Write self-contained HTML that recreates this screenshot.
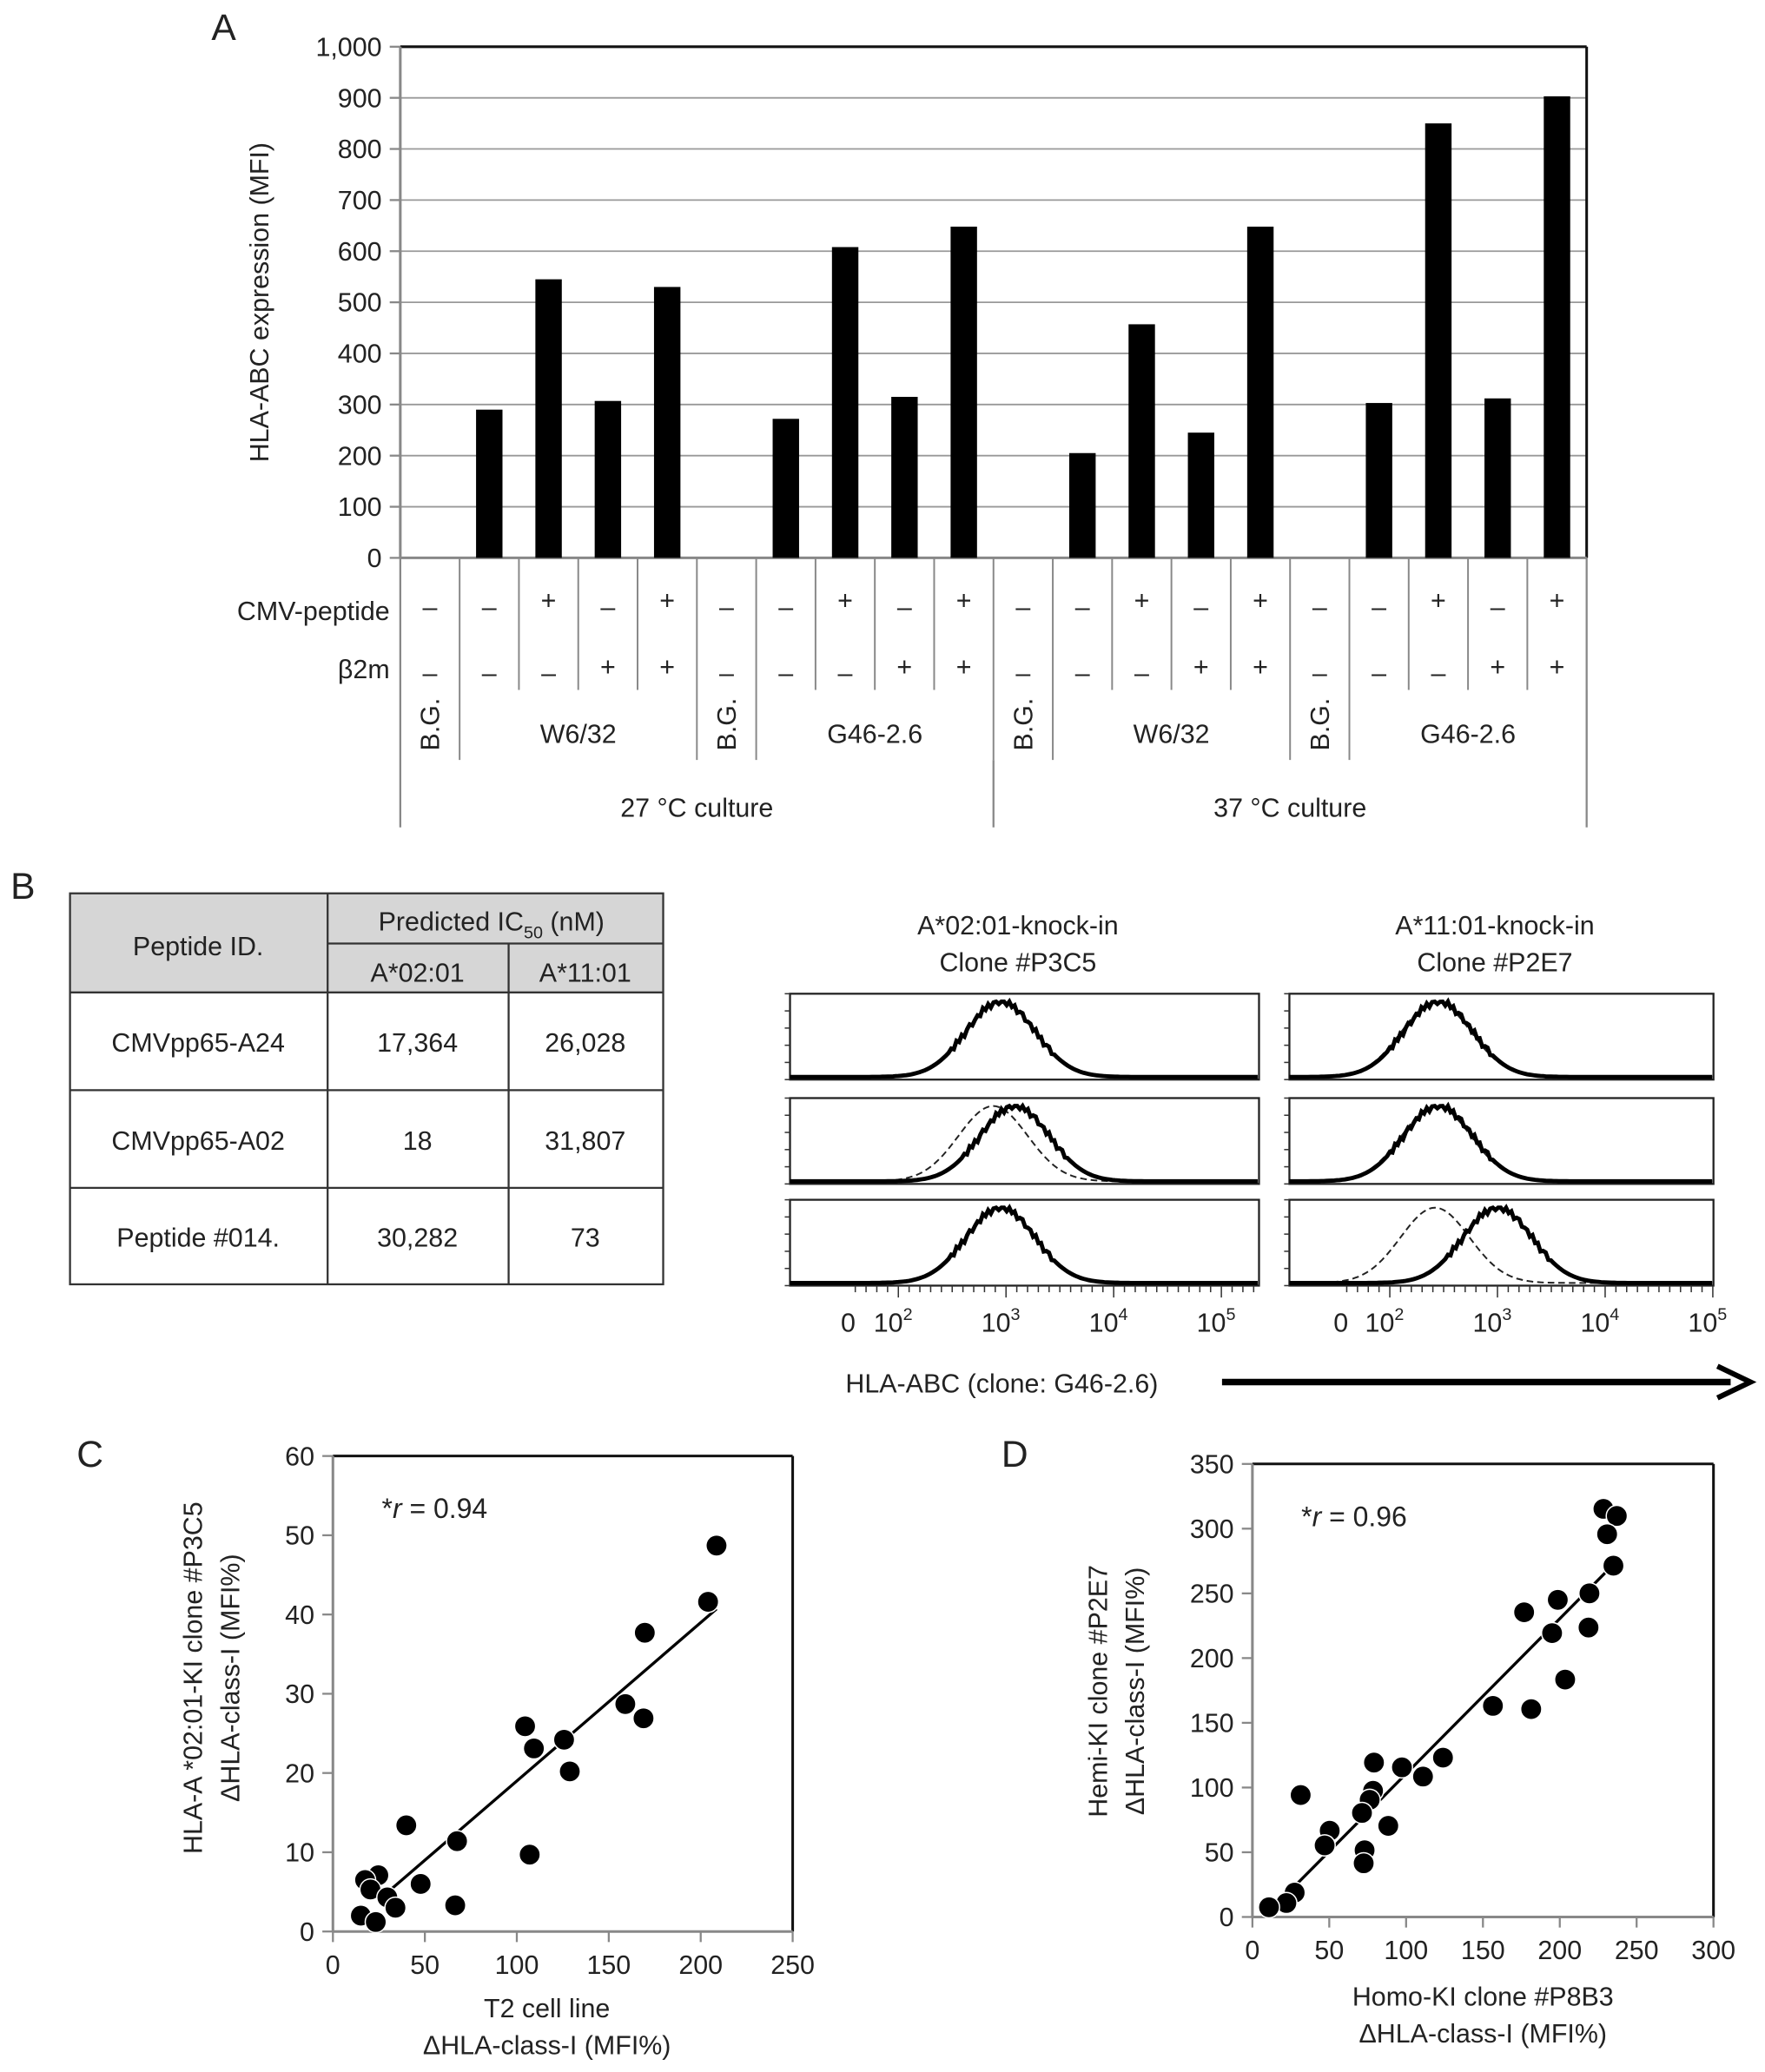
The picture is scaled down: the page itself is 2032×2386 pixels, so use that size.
<!DOCTYPE html>
<html><head><meta charset="utf-8">
<style>
html,body{margin:0;padding:0;background:#fff;}
svg{display:block;}
text{font-family:"Liberation Sans",sans-serif;fill:#222;}
</style></head>
<body>
<svg id="fig" width="2032" height="2386" viewBox="0 0 1336 1568" xmlns="http://www.w3.org/2000/svg">
<rect width="1336" height="1568" fill="#fff"/>
<g id="panelA"></g>
<g id="panelB"></g>
<g id="panelC"></g>
<g id="panelD"></g>
</svg>
<script>
// ---------- Panel A data ----------
const aTicks = [0,100,200,300,400,500,600,700,800,900,1000];
const aTickLabels = ["0","100","200","300","400","500","600","700","800","900","1,000"];
const aValues = [null,290,545,307,530,null,272,608,315,648,null,205,457,245,648,null,303,850,312,903];
const aCmv = ["–","–","+","–","+","–","–","+","–","+","–","–","+","–","+","–","–","+","–","+"];
const aB2m = ["–","–","–","+","+","–","–","–","+","+","–","–","–","+","+","–","–","–","+","+"];
const aGroups = ["B.G.","W6/32","B.G.","G46-2.6","B.G.","W6/32","B.G.","G46-2.6"];
const aTemps = ["27 °C culture","37 °C culture"];
// ---------- Panel B data ----------
const bRows = [["CMVpp65-A24","17,364","26,028"],["CMVpp65-A02","18","31,807"],["Peptide #014.","30,282","73"]];
const histLeftSolid = [2.95, 3.08, 2.95];
const histLeftDashed = [2.95, 2.88, 2.95];
const histRightSolid = [2.45, 2.45, 3.0];
const histRightDashed = [2.43, 2.43, 2.42];
const histXTicks = ["0","10","10","10","10"];
const histXExp = ["","2","3","4","5"];
// ---------- Panel C data ----------
const cX = [208.6,204,169.6,159,168.9,104.5,109.3,125.7,128.8,39.9,67.5,107,47.7,66.5,24.7,17.5,20.4,29.6,34,15.2,23.3];
const cY = [48.7,41.6,37.7,28.7,26.9,25.9,23.1,24.2,20.2,13.4,11.4,9.7,6.0,3.3,7.1,6.5,5.3,4.3,3.0,2.0,1.2];
const cFit = [[29,4.8],[208.6,40.7]];
const cXTicks = [0,50,100,150,200,250];
const cYTicks = [0,10,20,30,40,50,60];
// ---------- Panel D data ----------
const dX = [228.4,237.1,230.8,234.9,219.3,198.7,176.8,195,218.7,203.5,156.5,181.4,124,97.3,111,79.1,78.5,76.3,71.3,88.4,31.4,50.3,47,73,72.4,27.5,22.1,10.8];
const dY = [315.3,309.8,295.7,271.4,250,245,235.4,219.3,223.6,183.4,163.1,160.6,123.1,115.6,108.5,119.3,97.5,90.5,80.4,70.4,94.2,66.6,55.3,51.5,41.5,18.8,10.8,7.5];
const dFit = [[10.8,3.8],[231,267.6]];
const dXTicks = [0,50,100,150,200,250,300];
const dYTicks = [0,50,100,150,200,250,300,350];

const NS="http://www.w3.org/2000/svg";
function mk(parent,tag,attrs,txt){const e=document.createElementNS(NS,tag);for(const k in attrs)e.setAttribute(k,attrs[k]);if(txt!==undefined)e.textContent=txt;parent.appendChild(e);return e;}
function line(p,x1,y1,x2,y2,st,w){return mk(p,'line',{x1,y1,x2,y2,stroke:st||'#222','stroke-width':w||1.5});}

// ================= Panel A =================
(function(){
const g=document.getElementById('panelA');
const L=303,R=1201,T=35,B=422;
const y=v=>B-(v/1000)*(B-T);
const cw=(R-L)/aValues.length;
const cx=i=>L+cw*(i+0.5);
let t=mk(g,'text',{x:160,y:30,'font-size':28});t.textContent='A';


aTicks.forEach((v,i)=>{
  if(v>0&&v<1000){const gl=line(g,L,y(v),R,y(v),'#999',1.2);
  
  }
  line(g,L-8,y(v),L,y(v),'#888',1.5);
  const tx=mk(g,'text',{x:L-14,y:y(v)+7,'font-size':20,'text-anchor':'end'},aTickLabels[i]);
  
  
});
line(g,L,T,R,T,'#111',2);line(g,R,T,R,B,'#111',2);
line(g,L,T,L,B,'#888',2);line(g,L,B,R,B,'#888',2);
const yt=mk(g,'text',{x:0,y:0,'font-size':20,'text-anchor':'middle',transform:`translate(203,${(T+B)/2}) rotate(-90)`},'HLA-ABC expression (MFI)');


aValues.forEach((v,i)=>{
  if(v===null)return;
  const r=mk(g,'rect',{x:cx(i)-10,y:y(v),width:20,height:B-y(v),fill:'#000'});
  
  
});
for(let i=1;i<aValues.length;i++){line(g,L+cw*i,B,L+cw*i,522,'#888',1.3);}
mk(g,'text',{x:295,y:469,'font-size':20,'text-anchor':'end'},'CMV-peptide');
mk(g,'text',{x:295,y:513,'font-size':20,'text-anchor':'end'},'β2m');
aValues.forEach((v,i)=>{
  mk(g,'text',{x:cx(i),y:aCmv[i]==='+'?461:466,'font-size':20,'text-anchor':'middle'},aCmv[i]);
  mk(g,'text',{x:cx(i),y:aB2m[i]==='+'?511:516,'font-size':20,'text-anchor':'middle'},aB2m[i]);
});
let col=0;
aGroups.forEach((lab,k)=>{
  const n=lab==='B.G.'?1:4;
  const x0=L+cw*col,x1=L+cw*(col+n);
  if(lab==='B.G.'){mk(g,'text',{x:0,y:0,'font-size':20,'text-anchor':'middle',transform:`translate(${(x0+x1)/2+7},548) rotate(-90)`},lab);}
  else mk(g,'text',{x:(x0+x1)/2,y:562,'font-size':20,'text-anchor':'middle'},lab);
  line(g,x1,522,x1,575,'#888',1.3);
  col+=n;
});
line(g,L,B,L,626,'#888',1.5);line(g,R,B,R,626,'#888',1.5);line(g,(L+R)/2,575,(L+R)/2,626,'#888',1.5);
aTemps.forEach((s,k)=>{const x0=L+(R-L)/2*k;mk(g,'text',{x:x0+(R-L)/4,y:618,'font-size':20,'text-anchor':'middle'},s);});
})();

// ================= Panel B =================
(function(){
const g=document.getElementById('panelB');
mk(g,'text',{x:8,y:680,'font-size':28},'B');
const tb=mk(g,'g',{});


const Y=[676,714,751,825,899,972];
mk(tb,'rect',{x:53,y:676,width:449,height:75,fill:'#d6d6d6'});
mk(tb,'rect',{x:53,y:676,width:449,height:296,fill:'none',stroke:'#333','stroke-width':1.5});
line(tb,248,676,248,972,'#333',1.5);line(tb,385,714,385,972,'#333',1.5);
line(tb,248,714,502,714,'#333',1.5);
[751,825,899].forEach(yy=>line(tb,53,yy,502,yy,'#333',1.5));
mk(tb,'text',{x:150,y:723,'font-size':20,'text-anchor':'middle'},'Peptide ID.');
const h=mk(tb,'text',{x:372,y:704,'font-size':20,'text-anchor':'middle'},'Predicted IC');
mk(h,'tspan',{'font-size':13,dy:6},'50');mk(h,'tspan',{dy:-6},' (nM)');
mk(tb,'text',{x:316,y:743,'font-size':20,'text-anchor':'middle'},'A*02:01');
mk(tb,'text',{x:443,y:743,'font-size':20,'text-anchor':'middle'},'A*11:01');
bRows.forEach((r,i)=>{
  const yy=(Y[i+2]+Y[i+3])/2+8;
  mk(tb,'text',{x:150,y:yy,'font-size':20,'text-anchor':'middle'},r[0]);
  mk(tb,'text',{x:316,y:yy,'font-size':20,'text-anchor':'middle'},r[1]);
  mk(tb,'text',{x:443,y:yy,'font-size':20,'text-anchor':'middle'},r[2]);
});
const panels=[{L:598,R:953,d0:680,title:['A*02:01-knock-in','Clone #P3C5'],solid:histLeftSolid,dash:histLeftDashed,zero:642},
              {L:976,R:1297,d0:1052,title:['A*11:01-knock-in','Clone #P2E7'],solid:histRightSolid,dash:histRightDashed,zero:1015}];
const rowsY=[[752,817],[831,896],[908,973]];
const dec=81.5;
const jit=[0,0.02,-0.03,0.04,-0.02,0.03,-0.04,0.01,0.03,-0.03];
panels.forEach((P,pi)=>{
  const xs=lg=>P.d0+(lg-2)*dec;
  mk(g,'text',{x:(P.L+P.R)/2-5,y:707,'font-size':20,'text-anchor':'middle'},P.title[0]);
  mk(g,'text',{x:(P.L+P.R)/2-5,y:735,'font-size':20,'text-anchor':'middle'},P.title[1]);
  rowsY.forEach((ry,ri)=>{
    const hg=mk(g,'g',{});
    
    
    mk(hg,'rect',{x:P.L,y:ry[0],width:P.R-P.L,height:ry[1]-ry[0],fill:'none',stroke:'#222','stroke-width':1.5});
    for(let k=0;k<=5;k++){line(hg,P.L-4,ry[1]-k*(ry[1]-ry[0])/5,P.L,ry[1]-k*(ry[1]-ry[0])/5,'#333',1);}
    const curve=(mu,sty,j)=>{let d='';let n=0;for(let px=P.L;px<=P.R;px+=2){const lg=2+(px-P.d0)/dec;let v=Math.exp(-Math.pow(lg-mu,2)/(2*0.32*0.32));if(j&&v>0.3)v=Math.min(1,v+jit[(n++)%jit.length]);const yy=ry[1]-2-v*(ry[1]-ry[0]-8);d+=(d?'L':'M')+px+','+yy.toFixed(1);}
      return mk(hg,'path',Object.assign({d,fill:'none'},sty));};
    const dp=curve(P.dash[ri],{stroke:'#222','stroke-width':1.3,'stroke-dasharray':'5,3'},false);
    
    
    const sp=curve(P.solid[ri],{stroke:'#000','stroke-width':3.2},true);
    
    
  });
  const yb=973;
  for(let lg=1.6;lg<=5.3;lg+=0.1){const px=xs(lg);if(px>P.L&&px<P.R){line(g,px,yb,px,yb+(Math.abs(lg-Math.round(lg))<0.01?9:5),'#333',1);}}
  const pos=[P.zero,xs(2),xs(3),xs(4),xs(5)];
  pos.forEach((px,k)=>{const tx=mk(g,'text',{x:px-(k?4:0),y:1008,'font-size':20,'text-anchor':'middle'},histXTicks[k]);if(histXExp[k])mk(tx,'tspan',{'font-size':13,dy:-9},histXExp[k]);});
});
mk(g,'text',{x:640,y:1054,'font-size':20},'HLA-ABC  (clone: G46-2.6)');
const ar=mk(g,'g',{});


line(ar,925,1046,1310,1046,'#000',5);
mk(ar,'path',{d:'M1300,1034 L1325,1046 L1300,1058',fill:'none',stroke:'#000','stroke-width':4});
})();

// ================= Scatter panels =================
function scatter(gid,letter,lx,box,xT,yT,xs,ys,fit,rtext,ytitle,xtitle,ytx,xty,ycx){
const g=document.getElementById(gid);
mk(g,'text',{x:lx,y:1110,'font-size':28},letter);
const [L,R,T,B,xmax,ymax]=box;
const X=v=>L+v/xmax*(R-L),Y=v=>B-v/ymax*(B-T);
line(g,L,T,R,T,'#111',2);line(g,R,T,R,B,'#111',2);line(g,L,T,L,B,'#888',2);line(g,L,B,R,B,'#888',2);
xT.forEach(v=>{line(g,X(v),B,X(v),B+8,'#888',1.5);const t=mk(g,'text',{x:X(v),y:B+32,'font-size':20,'text-anchor':'middle'},String(v));
 
 });
yT.forEach(v=>{line(g,L-8,Y(v),L,Y(v),'#888',1.5);const t=mk(g,'text',{x:L-14,y:Y(v)+7,'font-size':20,'text-anchor':'end'},String(v));
 
 });
const rt=mk(g,'text',{x:L+37,y:T+47,'font-size':21},'*');mk(rt,'tspan',{'font-style':'italic'},'r');mk(rt,'tspan',{},rtext);
const fl=line(g,X(fit[0][0]),Y(fit[0][1]),X(fit[1][0]),Y(fit[1][1]),'#000',2.2);


xs.forEach((v,i)=>{const c=mk(g,'circle',{cx:X(v),cy:Y(ys[i]),r:8,fill:'#000',stroke:'#fff','stroke-width':1});
 
 });
ytitle.forEach((s,k)=>{const t=mk(g,'text',{x:0,y:0,'font-size':20,'text-anchor':'middle',transform:`translate(${ytx[k]},${ycx}) rotate(-90)`},s);
 
 });
xtitle.forEach((s,k)=>{const t=mk(g,'text',{x:(L+R)/2+(letter==='C'?-12:0),y:xty[k],'font-size':20,'text-anchor':'middle'},s);
 
 });
}
scatter('panelC','C',58,[252,600,1102,1462,250,60],cXTicks,cYTicks,cX,cY,cFit,' = 0.94',
  ['HLA-A *02:01-KI clone #P3C5','ΔHLA-class-I (MFI%)'],['T2 cell line','ΔHLA-class-I (MFI%)'],[153,181],[1527,1555],1270);
scatter('panelD','D',758,[948,1297,1108,1451,300,350],dXTicks,dYTicks,dX,dY,dFit,' = 0.96',
  ['Hemi-KI clone #P2E7','ΔHLA-class-I (MFI%)'],['Homo-KI clone #P8B3','ΔHLA-class-I (MFI%)'],[838,866],[1518,1546],1280);
</script>
</body></html>
